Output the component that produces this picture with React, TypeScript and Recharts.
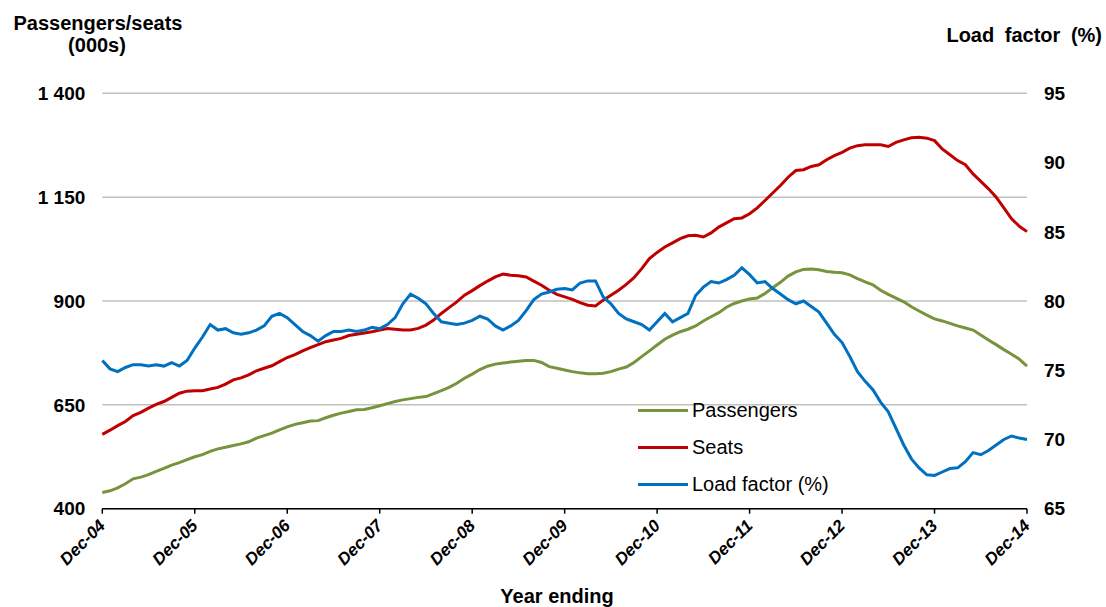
import React from "react";
import { LineChart, Line, XAxis, YAxis, CartesianGrid, Legend } from "recharts";

// monthly series, Dec-04 .. Dec-14 (121 points)
const monthNames = ["Jan", "Feb", "Mar", "Apr", "May", "Jun", "Jul", "Aug", "Sep", "Oct", "Nov", "Dec"];
const years = ["05", "06", "07", "08", "09", "10", "11", "12", "13", "14"];
const monthLabels = ["Dec-04", ...years.flatMap((y) => monthNames.map((m) => `${m}-${y}`))];

const passengers = [
  439, 443, 450, 460, 472, 476, 482, 490, 497, 505, 511, 518, 525, 530, 538, 544, 548, 552, 556, 561, 570, 576, 582, 590, 597,
  603, 607, 611, 612, 619, 625, 630, 634, 638, 639, 643, 648, 653, 658, 662, 665, 668, 670, 677, 684, 692, 702, 714,
  724, 735, 743, 748, 751, 753, 755, 757, 757, 752, 742, 738, 734, 730, 727, 725, 725, 726, 730, 736, 741, 752, 766, 780,
  794, 808, 818, 826, 832, 840, 852, 862, 872, 885, 894, 900, 905, 907, 918, 932, 945, 960, 970, 976, 977, 975, 971, 969, 968,
  963, 954, 946, 939, 926, 916, 907, 898, 886, 876, 866, 857, 852, 846, 840, 835, 830, 818, 806, 795, 783, 772, 760, 743,
];

const seats = [
  579, 589, 600, 610, 624, 632, 642, 651, 658, 668, 678, 683, 684, 684, 688, 692, 700, 710, 715, 722, 732, 738, 744, 754, 764,
  771, 780, 788, 795, 802, 806, 810, 817, 820, 823, 826, 830, 834, 832, 830, 830, 834, 842, 854, 870, 884, 898, 914,
  925, 937, 948, 958, 965, 962, 961, 958, 948, 938, 926, 916, 910, 904, 896, 890, 888, 902, 914, 926, 940, 956, 978, 1002,
  1017, 1030, 1040, 1050, 1057, 1058, 1054, 1064, 1078, 1088, 1098, 1100, 1110, 1124, 1142, 1160, 1178, 1198, 1214, 1216, 1224, 1228, 1240, 1250, 1258,
  1268, 1274, 1276, 1276, 1276, 1272, 1282, 1288, 1293, 1294, 1292, 1286, 1266, 1252, 1238, 1228, 1206, 1188, 1170, 1150, 1124, 1098, 1080, 1067,
];

const loadFactor = [
  75.7, 75.1, 74.9, 75.2, 75.4, 75.4, 75.3, 75.4, 75.3, 75.55, 75.3, 75.7, 76.6, 77.4, 78.3, 77.9, 78.0, 77.7, 77.6, 77.7, 77.9, 78.2, 78.9, 79.1, 78.8,
  78.3, 77.8, 77.5, 77.1, 77.5, 77.8, 77.8, 77.9, 77.8, 77.9, 78.1, 78.0, 78.3, 78.8, 79.8, 80.5, 80.2, 79.8, 79.1, 78.5, 78.4, 78.3, 78.4,
  78.6, 78.9, 78.7, 78.2, 77.9, 78.2, 78.6, 79.3, 80.1, 80.5, 80.65, 80.85, 80.9, 80.8, 81.3, 81.45, 81.45, 80.3, 79.8, 79.1, 78.7, 78.5, 78.3, 77.9,
  78.5, 79.1, 78.5, 78.8, 79.1, 80.4, 81.0, 81.4, 81.3, 81.55, 81.85, 82.4, 81.9, 81.3, 81.4, 80.9, 80.5, 80.1, 79.8, 80.0, 79.6, 79.2, 78.4, 77.6, 77.0,
  76.0, 74.9, 74.2, 73.6, 72.7, 72.0, 70.8, 69.6, 68.6, 67.95, 67.45, 67.4, 67.65, 67.9, 67.95, 68.4, 69.05, 68.9, 69.2, 69.6, 70.0, 70.25, 70.1, 70.0,
];

const leftTicks = [400, 650, 900, 1150, 1400];
const rightTicks = [65, 70, 75, 80, 85, 90, 95];

const series = [
  { key: "passengers", name: "Passengers", color: "#77933C", axis: "left" },
  { key: "seats", name: "Seats", color: "#C00000", axis: "left" },
  { key: "loadFactor", name: "Load factor (%)", color: "#0070C0", axis: "right" },
];

const data = monthLabels.map((label, i) => ({
  label,
  passengers: passengers[i],
  seats: seats[i],
  loadFactor: loadFactor[i],
}));

const FONT = '"Liberation Sans", Arial, sans-serif';

const fmtThousands = (v: number) =>
  v >= 1000 ? `${Math.floor(v / 1000)} ${String(v % 1000).padStart(3, "0")}` : String(v);

const XTick = (props: any) => {
  const { x, y, payload } = props;
  return (
    <g transform={`translate(${x + 4},${y + 11})`}>
      <text
        textAnchor="end"
        transform="rotate(-45)"
        fontFamily={FONT}
        fontSize={17}
        fontWeight="bold"
        fontStyle="italic"
        fill="#000"
      >
        {payload.value}
      </text>
    </g>
  );
};

const LegendBox = () => (
  <div style={{ fontFamily: FONT, fontSize: 20, color: "#000" }}>
    {series.map((s) => (
      <div key={s.key} style={{ display: "flex", alignItems: "center", height: 37 }}>
        <div style={{ width: 50, height: 3, background: s.color }} />
        <span style={{ marginLeft: 4 }}>{s.name}</span>
      </div>
    ))}
  </div>
);

const tickStyle = { fontFamily: FONT, fontSize: 19, fontWeight: "bold", fill: "#000" };

export default function App() {
  return (
    <div style={{ position: "relative", width: 1106, height: 607 }}>
      <style>{"html,body{margin:0;padding:0;overflow:hidden;background:#fff}"}</style>
      <LineChart
        width={1106}
        height={607}
        data={data}
        margin={{ top: 93.3, right: 19, bottom: 38.3, left: 42.3 }}
      >
        <CartesianGrid vertical={false} yAxisId="left" stroke="#BFBFBF" strokeWidth={1.5} />
        <XAxis
          dataKey="label"
          interval={11}
          height={60}
          tickSize={5}
          axisLine={{ stroke: "#000", strokeWidth: 1.5 }}
          tickLine={{ stroke: "#000", strokeWidth: 1.5 }}
          tick={<XTick />}
        />
        <YAxis
          yAxisId="left"
          width={60}
          domain={[400, 1400]}
          ticks={leftTicks}
          axisLine={false}
          tickLine={false}
          tickMargin={11}
          tickFormatter={fmtThousands}
          tick={tickStyle}
        />
        <YAxis
          yAxisId="right"
          orientation="right"
          width={60}
          domain={[65, 95]}
          ticks={rightTicks}
          axisLine={false}
          tickLine={false}
          tickMargin={11}
          tick={tickStyle}
        />
        {series.map((s) => (
          <Line
            key={s.key}
            yAxisId={s.axis}
            dataKey={s.key}
            name={s.name}
            type="linear"
            stroke={s.color}
            strokeWidth={3}
            dot={false}
            isAnimationActive={false}
          />
        ))}
        <Legend
          layout="horizontal"
          verticalAlign="middle"
          align="center"
          content={<LegendBox />}
          wrapperStyle={{ position: "absolute", left: 638, top: 392, width: 240 }}
        />
      </LineChart>
      <svg
        width={1106}
        height={607}
        style={{ position: "absolute", left: 0, top: 0, pointerEvents: "none" }}
      >
        <g fontFamily={FONT} fontWeight="bold" fontSize={20} fill="#000">
          <text x={98} y={30} textAnchor="middle">Passengers/seats</text>
          <text x={97} y={52} textAnchor="middle">(000s)</text>
          <text x={1102} y={42} textAnchor="end" style={{ wordSpacing: 5 }}>Load factor (%)</text>
          <text x={557} y={603} textAnchor="middle">Year ending</text>
        </g>
      </svg>
    </div>
  );
}
